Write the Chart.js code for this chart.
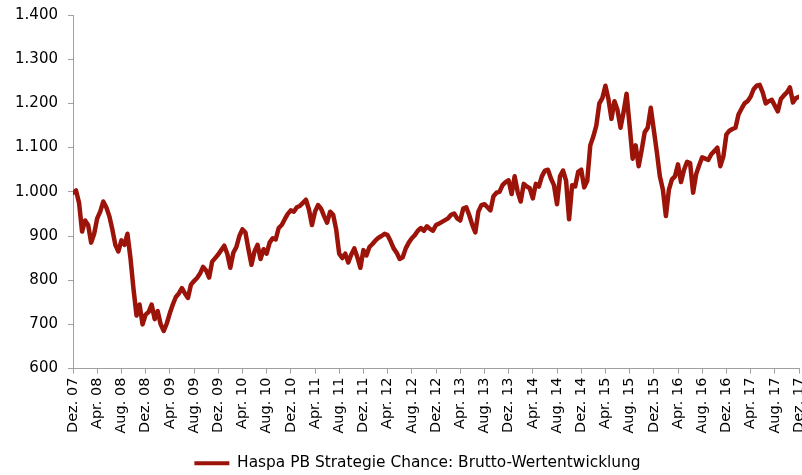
<!DOCTYPE html>
<html>
<head>
<meta charset="utf-8">
<script src="https://cdn.jsdelivr.net/npm/chart.js@4"></script>
<style>
  html, body { margin: 0; padding: 0; background: #fff; }
  #wrap { width: 802px; height: 475px; }
</style>
</head>
<body>
<div id="wrap"><canvas id="perfchart" width="802" height="475"></canvas></div>
<script>
// tick labels every 4 months, Dez 07 .. Dez 17
const tickLabels = ["Dez. 07", "Apr. 08", "Aug. 08", "Dez. 08", "Apr. 09", "Aug. 09", "Dez. 09",
    "Apr. 10", "Aug. 10", "Dez. 10", "Apr. 11", "Aug. 11", "Dez. 11", "Apr. 12", "Aug. 12",
    "Dez. 12", "Apr. 13", "Aug. 13", "Dez. 13", "Apr. 14", "Aug. 14", "Dez. 14", "Apr. 15",
    "Aug. 15", "Dez. 15", "Apr. 16", "Aug. 16", "Dez. 16", "Apr. 17", "Aug. 17", "Dez. 17"];

const seriesName = "Haspa PB Strategie Chance: Brutto-Wertentwicklung";

// half-monthly values (index 0 = Dez. 07)
const values2008 = [998, 1003, 975, 910, 935, 925, 885, 905, 940, 955, 978, 965, 945, 915, 880, 865,
    890, 880, 905, 850, 780, 720, 745, 700];
const values2009 = [722, 728, 745, 712, 730, 700, 685, 702, 725, 745, 762, 770, 782, 770, 760, 790,
    798, 805, 815, 830, 822, 806, 842, 850];
const values2010 = [858, 868, 878, 860, 828, 862, 875, 900, 915, 908, 870, 835, 865, 880, 848, 870,
    860, 885, 895, 892, 918, 925, 938, 950];
const values2011 = [958, 955, 965, 968, 975, 982, 960, 925, 955, 970, 962, 945, 930, 955, 948, 915,
    860, 850, 860, 840, 858, 872, 852, 828];
const values2012 = [868, 856, 875, 882, 890, 896, 900, 905, 902, 888, 872, 862, 848, 852, 872, 885,
    895, 902, 912, 918, 912, 922, 916, 912];
const values2013 = [925, 928, 932, 936, 940, 948, 951, 940, 935, 962, 965, 947, 925, 908, 955, 970,
    972, 965, 958, 990, 998, 1000, 1015, 1022];
const values2014 = [1026, 995, 1035, 1000, 978, 1018, 1012, 1008, 985, 1018, 1012, 1035, 1048, 1050,
    1030, 1015, 972, 1035, 1048, 1025, 938, 1015, 1012, 1045];
const values2015 = [1050, 1010, 1025, 1105, 1125, 1150, 1200, 1212, 1240, 1210, 1165, 1205, 1185,
    1145, 1180, 1222, 1150, 1075, 1105, 1058, 1095, 1135, 1145, 1190];
const values2016 = [1140, 1090, 1035, 1005, 945, 1005, 1028, 1035, 1062, 1022, 1050, 1068, 1065, 998,
    1040, 1060, 1078, 1075, 1072, 1085, 1092, 1100, 1058, 1080];
const values2017 = [1130, 1138, 1142, 1145, 1175, 1188, 1200, 1205, 1215, 1232, 1240, 1242, 1225,
    1200, 1205, 1208, 1195, 1182, 1210, 1218, 1225, 1236, 1202, 1212, 1215];

const values = [].concat(values2008, values2009, values2010, values2011, values2012,
    values2013, values2014, values2015, values2016, values2017);

const lineColor = "#9b1309";
const axisColor = "#a0a0a0";

function formatThousands(v) {
    if (v >= 1000) {
        return Math.floor(v / 1000) + "." + String(v % 1000).padStart(3, "0");
    }
    return String(v);
}

// the legend in the picture sits a bit right of centre
const legendShift = {
    id: "legendShift",
    beforeDraw: function (chart) {
        if (chart.legend && !chart.legend._shifted) {
            chart.legend.left += 18;
            chart.legend.right += 18;
            chart.legend._shifted = true;
        }
    },
};

let ctx = document.getElementById("perfchart").getContext("2d");
var perfChart = new Chart(ctx, {
    type: "line",
    data: {
        datasets: [
            {
                label: seriesName,
                data: values.map((v, i) => ({ x: i, y: v })),
                borderColor: lineColor,
                backgroundColor: lineColor,
                borderWidth: 4.5,
                pointRadius: 0,
                tension: 0,
                borderJoinStyle: "round",
                borderCapStyle: "round",
            },
        ],
    },
    plugins: [legendShift],
    options: {
        responsive: false,
        animation: false,
        layout: {
            padding: { top: 15, right: 3, left: 0, bottom: -6 },
        },
        plugins: {
            tooltip: { enabled: false },
            legend: {
                position: "bottom",
                labels: {
                    color: "#000",
                    font: { family: "DejaVu Sans", size: 15.4 },
                    boxWidth: 35,
                    boxHeight: 4,
                    padding: 5,
                    generateLabels: function (chart) {
                        return chart.data.datasets.map((ds, i) => ({
                            text: ds.label,
                            fillStyle: ds.borderColor,
                            strokeStyle: ds.borderColor,
                            lineWidth: 0,
                            datasetIndex: i,
                            fontColor: "#000",
                        }));
                    },
                },
            },
        },
        scales: {
            x: {
                type: "linear",
                min: 0,
                max: 240,
                afterFit: function (scale) {
                    scale.height = 82;
                    scale.paddingLeft = 0;
                    scale.paddingRight = 0;
                },
                ticks: {
                    stepSize: 8,
                    autoSkip: false,
                    minRotation: 90,
                    maxRotation: 90,
                    padding: 4,
                    color: "#000",
                    font: { family: "DejaVu Sans", size: 14.5 },
                    callback: function (value) {
                        const k = value / 8;
                        return Number.isInteger(k) ? tickLabels[k] : "";
                    },
                },
                grid: {
                    drawOnChartArea: false,
                    drawTicks: true,
                    tickLength: 5,
                    color: axisColor,
                },
                border: { color: axisColor, width: 1 },
            },
            y: {
                min: 600,
                max: 1400,
                afterFit: function (scale) {
                    scale.width = 73;
                    scale.paddingTop = 0;
                    scale.paddingBottom = 0;
                },
                ticks: {
                    stepSize: 100,
                    padding: 10,
                    color: "#000",
                    font: { family: "DejaVu Sans", size: 15 },
                    callback: function (value) {
                        return formatThousands(value);
                    },
                },
                grid: {
                    drawOnChartArea: false,
                    drawTicks: true,
                    tickLength: 5,
                    color: axisColor,
                },
                border: { color: axisColor, width: 1 },
            },
        },
    },
});
</script>
</body>
</html>
